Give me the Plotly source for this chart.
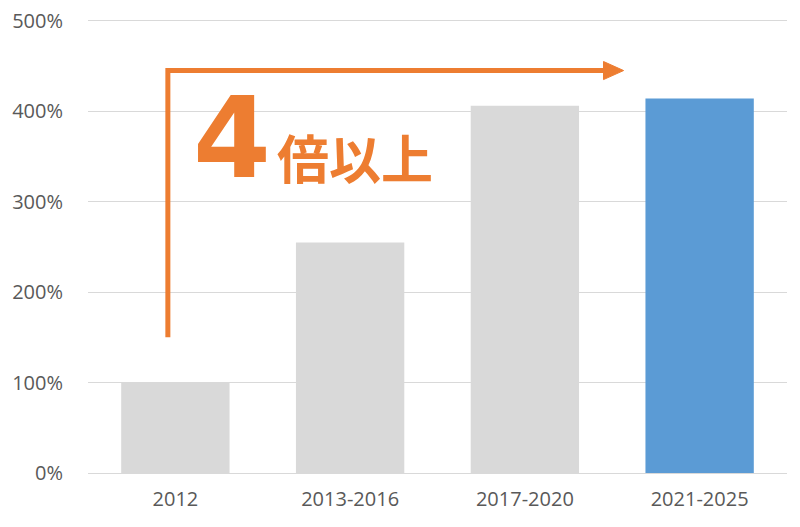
import plotly.graph_objects as go

categories = ["2012", "2013-2016", "2017-2020", "2021-2025"]
values = [1.00, 2.55, 4.06, 4.14]
bar_colors = ["#D9D9D9", "#D9D9D9", "#D9D9D9", "#5B9BD5"]
y_ticks = [0, 1, 2, 3, 4, 5]

orange = "#ED7D31"

fig = go.Figure(go.Bar(
    x=categories,
    y=values,
    marker=dict(color=bar_colors, line=dict(width=0)),
    width=0.62,
    hoverinfo="skip",
))

# L-shaped arrow
shapes = [
    dict(type="path", xref="x", yref="y",
         path="M -0.043,1.5 L -0.043,4.45 L 2.47,4.45",
         line=dict(color=orange, width=5)),
    dict(type="path", xref="x", yref="y",
         path="M 2.45,4.55 L 2.565,4.45 L 2.45,4.35 Z",
         fillcolor=orange, line=dict(color=orange, width=1)),
]

annotations = [
    dict(x=0.323, y=3.70, xref="x", yref="y", text="<b>4</b>", showarrow=False,
         font=dict(family="DejaVu Sans", size=112, color=orange, weight=700)),
    dict(x=1.03, y=3.505, xref="x", yref="y", text="倍以上", showarrow=False,
         font=dict(family="Noto Sans CJK JP", size=52, color=orange, weight=700)),
]

# page body has an 8px margin, so the figure is offset by that much
fig.update_layout(
    width=800, height=527,
    margin=dict(l=80, r=21, t=11, b=62),
    paper_bgcolor="white",
    plot_bgcolor="white",
    showlegend=False,
    bargap=0.38,
    shapes=shapes,
    annotations=annotations,
    font=dict(family="Open Sans", size=20, color="#595959"),
)
fig.update_xaxes(showgrid=False, ticks="", showline=False, zeroline=False,
                 ticklabelstandoff=12, automargin=False)
fig.update_yaxes(range=[0, 5.02], tickvals=y_ticks, tickformat=".0%",
                 gridcolor="#D9D9D9", gridwidth=1, zeroline=True,
                 zerolinecolor="#D9D9D9", zerolinewidth=1, showline=False,
                 ticks="", ticklabelstandoff=24, automargin=False,
                 ticklabeloverflow="allow")

fig.write_html("out.html")
